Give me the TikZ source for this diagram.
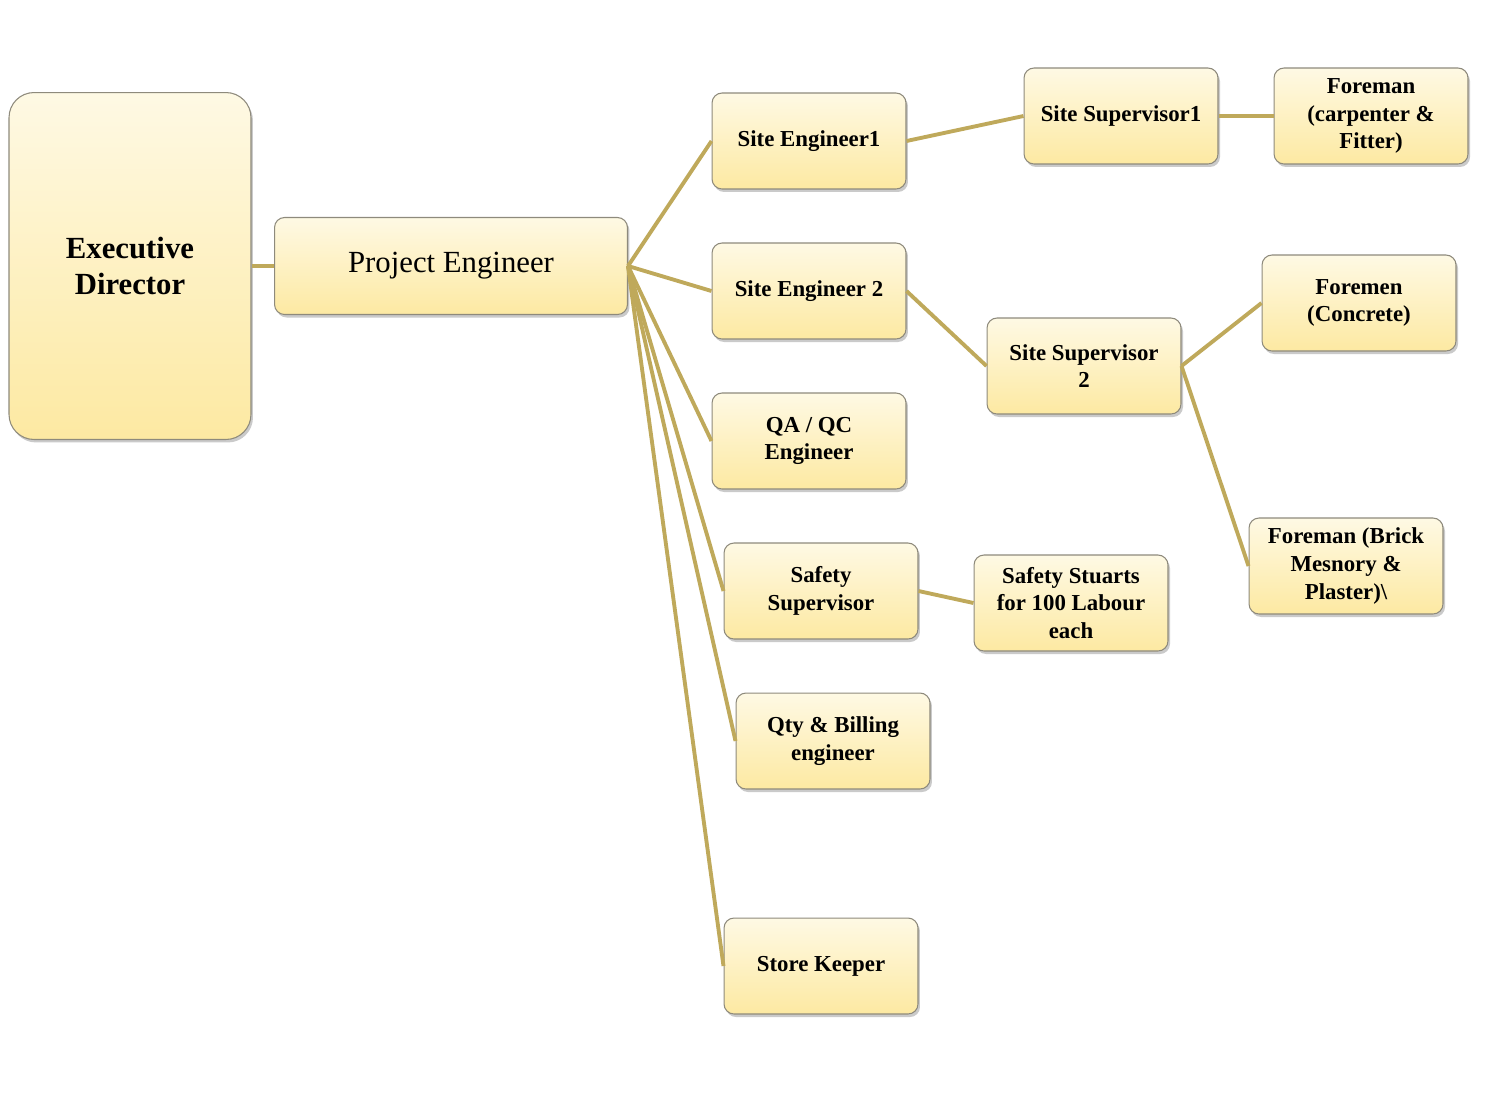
\documentclass[tikz,border=0pt]{standalone}
\usepackage{fontspec}
\setmainfont{Liberation Serif}
\usepackage{tikz}
\usetikzlibrary{shadows}

\definecolor{boxtop}{HTML}{FEF9E4}
\definecolor{boxbot}{HTML}{FDE9A2}
\definecolor{boxline}{HTML}{8E8A7C}
\definecolor{linkcol}{HTML}{BFA95B}

\tikzset{
  box/.style = {draw = boxline, line width = 0.6pt, rounded corners = 0.2cm,
    top color = boxtop, bottom color = boxbot, align = center,
    minimum width = 3.88cm, minimum height = 1.92cm, inner sep = 2pt,
    font = \bfseries\fontsize{13}{15.8}\selectfont,
    drop shadow = {shadow xshift = 0.04cm, shadow yshift = -0.06cm, opacity = 0.35, fill = black!60}},
  bigbox/.style = {box, minimum width = 4.84cm, minimum height = 6.94cm, rounded corners = 0.5cm,
    font = \bfseries\fontsize{17.5}{21}\selectfont},
  widebox/.style = {box, minimum width = 7.06cm, minimum height = 1.94cm,
    font = \fontsize{17.5}{21}\selectfont},
  link/.style = {draw = linkcol, line width = 2.2pt}
}

\begin{document}
\begin{tikzpicture}[x = 0.02cm, y = -0.02cm]
\useasboundingbox (0,0) rectangle (1496,1093);

\node[bigbox] (exec) at (130,266) {Executive\\Director};
\node[widebox] (proj) at (451,266) {Project Engineer};

\node[box] (site1) at (809,141) {Site Engineer1};
\node[box] (site2) at (809,291) {Site Engineer 2};
\node[box] (qaqc) at (809,441) {QA / QC\\Engineer};
\node[box] (safety) at (821,591) {Safety\\Supervisor};
\node[box] (qty) at (833,741) {Qty \& Billing\\engineer};
\node[box] (store) at (821,966) {Store Keeper};

\node[box] (sup1) at (1121,116) {Site Supervisor1};
\node[box] (fmcarp) at (1371,116) {Foreman\\(carpenter \&\\Fitter)};
\node[box] (sup2) at (1084,366) {Site Supervisor\\2};
\node[box] (fmconc) at (1359,303) {Foremen\\(Concrete)};
\node[box] (fmbrick) at (1346,566) {Foreman (Brick\\Mesnory \&\\Plaster)\textbackslash};
\node[box] (stuarts) at (1071,603) {Safety Stuarts\\for 100 Labour\\each};

\draw[link] (exec.east) -- (proj.west);
\foreach \n in {site1, site2, qaqc, safety, qty, store}
  \draw[link] (proj.east) -- (\n.west);
\draw[link] (site1.east) -- (sup1.west);
\draw[link] (sup1.east) -- (fmcarp.west);
\draw[link] (site2.east) -- (sup2.west);
\draw[link] (sup2.east) -- (fmconc.west);
\draw[link] (sup2.east) -- (fmbrick.west);
\draw[link] (safety.east) -- (stuarts.west);
\end{tikzpicture}
\end{document}
